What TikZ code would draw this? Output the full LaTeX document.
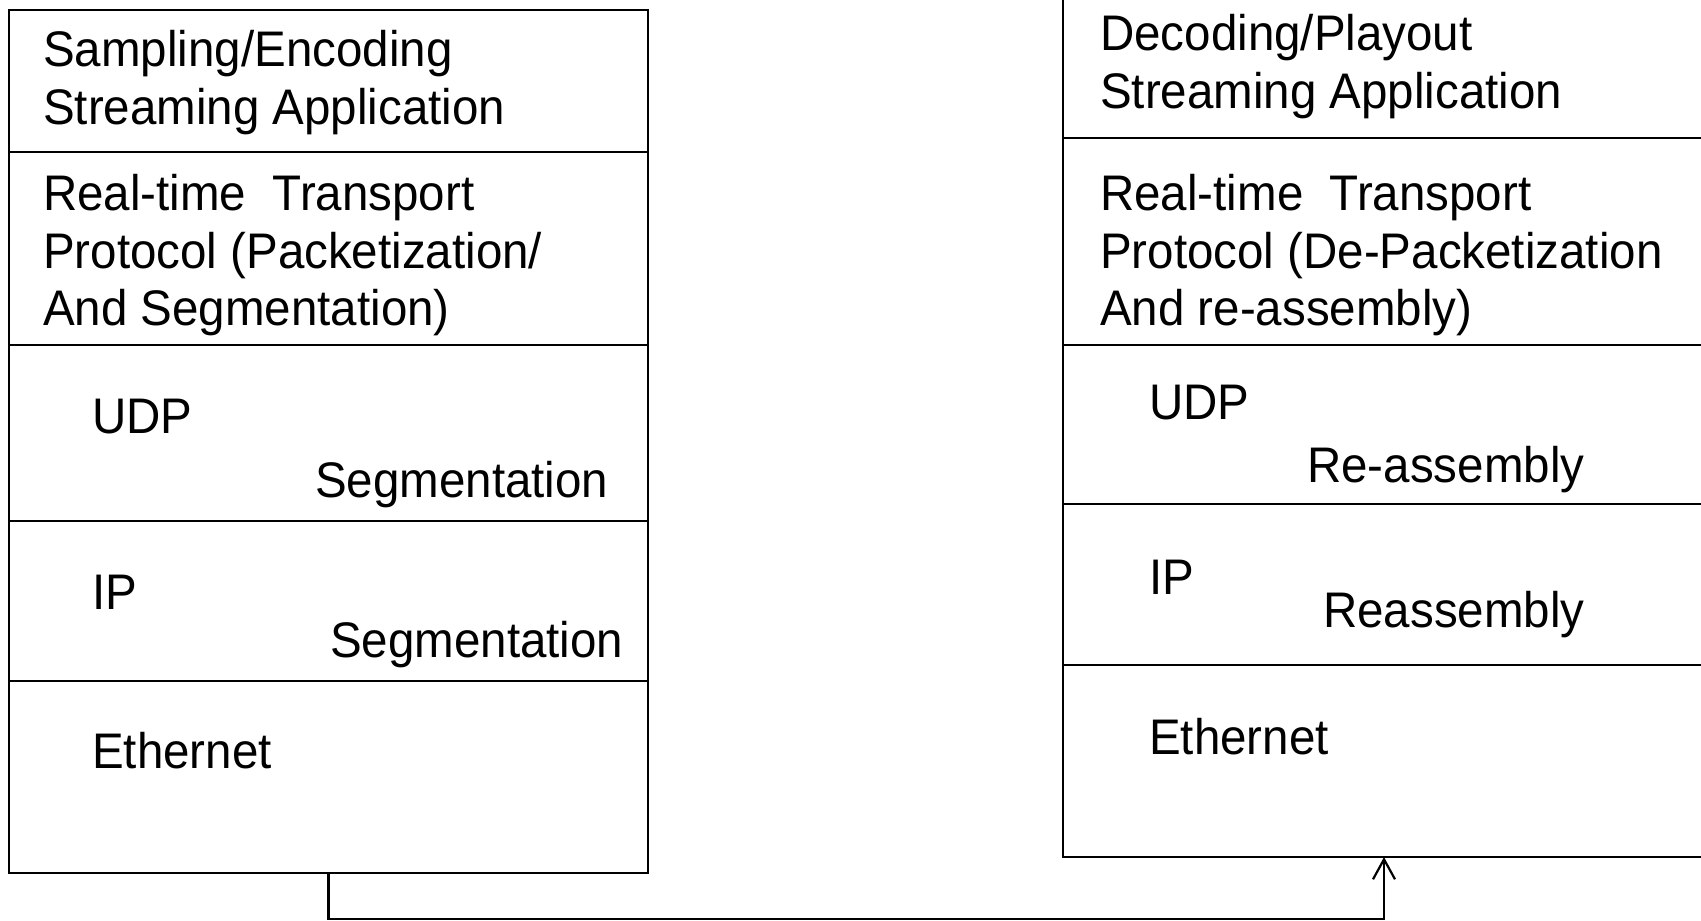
\documentclass[tikz,border=0pt]{standalone}
\usepackage{fontspec}
\setmainfont{Liberation Sans}[FakeStretch=0.95]
\usetikzlibrary{arrows.meta}
\begin{document}
\begin{tikzpicture}[x=1pt,y=-1pt,
  layer/.style={draw, line width=2.2pt, rectangle, anchor=north west, inner sep=0pt, outer sep=0pt},
  lay/.style={layer, minimum width=639pt},
  ray/.style={layer, minimum width=642pt},
  lbl/.style={anchor=base west, inner sep=0pt, font=\fontsize{50}{57.5}\selectfont},
  conn/.style={line width=2.2pt, -{Straight Barb[length=20pt,width=22pt,line width=2.2pt]}}]
\useasboundingbox (0,0) rectangle (1701,921);
\clip (0,0) rectangle (1701,921);
% left stack
\node[lay, minimum height=142pt] (L1) at (9,10) {};
\node[lay, minimum height=193pt] (L2) at (9,152) {};
\node[lay, minimum height=176pt] (L3) at (9,345) {};
\node[lay, minimum height=160pt] (L4) at (9,521) {};
\node[lay, minimum height=192pt] (L5) at (9,681) {};
% right stack
\node[ray, minimum height=144pt] (R1) at (1063,-6) {};
\node[ray, minimum height=207pt] (R2) at (1063,138) {};
\node[ray, minimum height=159pt] (R3) at (1063,345) {};
\node[ray, minimum height=161pt] (R4) at (1063,504) {};
\node[ray, minimum height=192pt] (R5) at (1063,665) {};
% left texts
\node[lbl] (t1a) at (43,66) {Sampling/Encoding};
\node[lbl] (t1b) at (43,124) {Streaming Application};
\node[lbl] (t2a) at (43,210) {Real-time\ \ Transport};
\node[lbl] (t2b) at (43,268) {Protocol (Packetization/};
\node[lbl] (t2c) at (43,325) {And Segmentation)};
\node[lbl] (t3a) at (92,433) {UDP};
\node[lbl] (t3b) at (315,497) {Segmentation};
\node[lbl] (t4a) at (92,609) {IP};
\node[lbl] (t4b) at (330,657) {Segmentation};
\node[lbl] (t5a) at (92,768) {Ethernet};
% right texts
\node[lbl] (s1a) at (1100,50) {Decoding/Playout};
\node[lbl] (s1b) at (1100,108) {Streaming Application};
\node[lbl] (s2a) at (1100,210) {Real-time\ \ Transport};
\node[lbl] (s2b) at (1100,268) {Protocol (De-Packetization};
\node[lbl] (s2c) at (1100,325) {And re-assembly)};
\node[lbl] (s3a) at (1149,419) {UDP};
\node[lbl] (s3b) at (1307,482) {Re-assembly};
\node[lbl] (s4a) at (1149,594) {IP};
\node[lbl] (s4b) at (1323,627) {Reassembly};
\node[lbl] (s5a) at (1149,754) {Ethernet};
% connector
\coordinate (bot) at (0,919);
\draw[conn] (L5.south) |- (bot -| R5.south) -- (R5.south);
\end{tikzpicture}
\end{document}
